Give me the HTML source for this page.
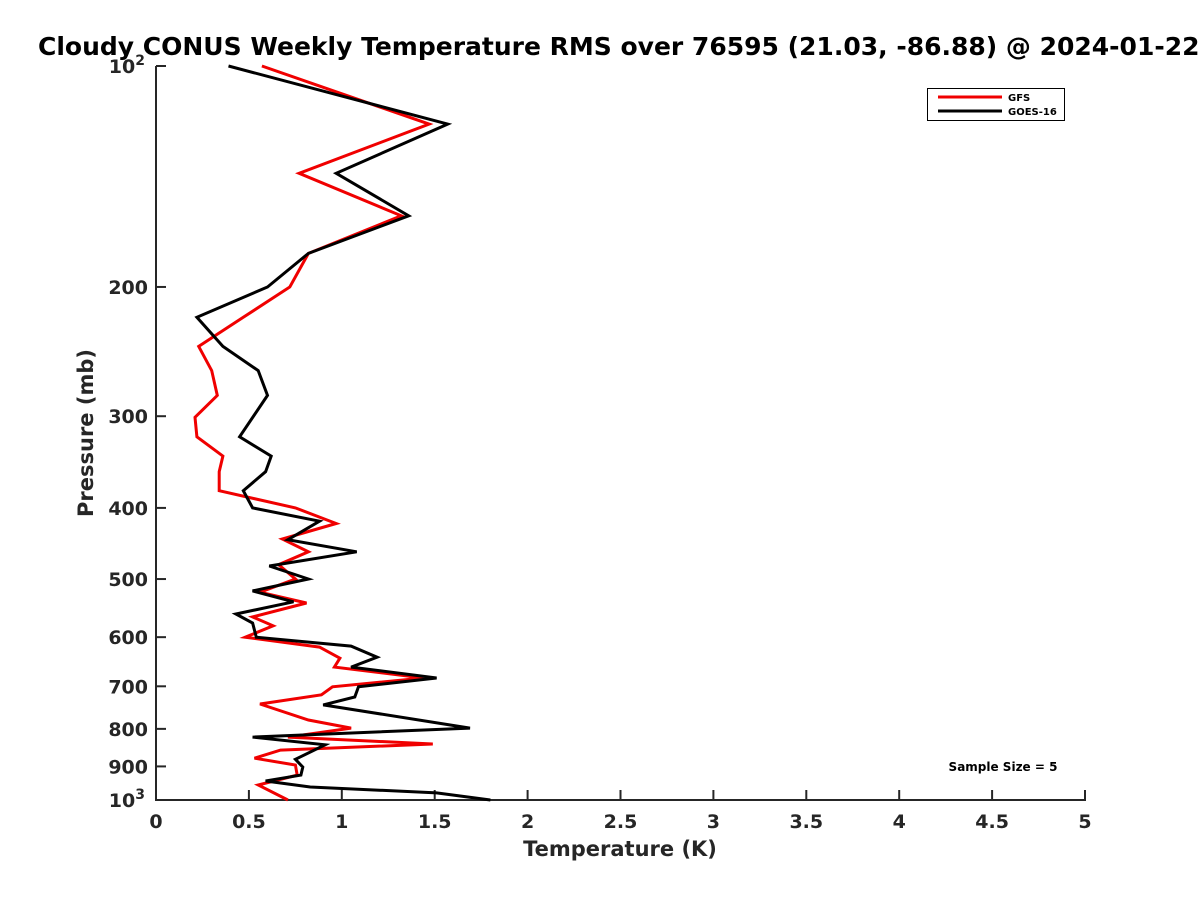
<!DOCTYPE html>
<html><head><meta charset="utf-8"><style>
html,body{margin:0;padding:0;background:#fff;}
svg{display:block;font-family:"DejaVu Sans","Liberation Sans",sans-serif;}
</style></head><body>
<svg id="chart" width="1200" height="900" viewBox="0 0 1200 900" xmlns="http://www.w3.org/2000/svg">
<text x="38" y="55" font-size="25" font-weight="bold" fill="#000">Cloudy CONUS Weekly Temperature RMS over 76595 (21.03, -86.88) @ 2024-01-22</text>
<g id="axes"></g>
<g id="series"></g>
<g>
<rect x="927.5" y="88.5" width="137" height="32" fill="#fff" stroke="#000" stroke-width="1"/>
<line x1="938" y1="97" x2="1002" y2="97" stroke="#f00000" stroke-width="3"/>
<text x="1008" y="101" font-size="10" font-weight="bold">GFS</text>
<line x1="938" y1="111" x2="1002" y2="111" stroke="#000" stroke-width="3"/>
<text x="1008" y="115" font-size="10" font-weight="bold">GOES-16</text>
</g>
<text x="1003" y="771" font-size="12" font-weight="bold" text-anchor="middle">Sample Size = 5</text>
<text x="620" y="856" font-size="21" font-weight="bold" fill="#262626" text-anchor="middle">Temperature (K)</text>
<text transform="translate(93,433) rotate(-90)" font-size="21" font-weight="bold" fill="#262626" text-anchor="middle">Pressure (mb)</text>
</svg>
<script>
const xTicks = [0,0.5,1,1.5,2,2.5,3,3.5,4,4.5,5];
const xTickLabels = ["0","0.5","1","1.5","2","2.5","3","3.5","4","4.5","5"];
const yTicks = [200,300,400,500,600,700,800,900];
const gfsPressure = [100,120,140,160,180,200,220,241,260,281,301,320,340,357,379,400,420,441,459,478,500,521,539,563,579,600,619,641,659,682,701,719,740,778,798,821,839,855,877,896,925,954,1000];
const gfsTemp = [0.57,1.47,0.77,1.32,0.82,0.72,0.47,0.23,0.30,0.33,0.21,0.22,0.36,0.34,0.34,0.75,0.97,0.68,0.82,0.66,0.75,0.56,0.81,0.52,0.63,0.48,0.88,0.99,0.96,1.44,0.95,0.89,0.56,0.82,1.05,0.71,1.49,0.67,0.53,0.75,0.76,0.55,0.71];
const goesPressure = [100,120,140,160,180,200,220,241,260,281,320,340,357,379,400,417,442,459,480,500,519,537,558,574,600,617,639,659,682,701,724,742,798,821,841,880,902,925,942,960,978,1000];
const goesTemp = [0.39,1.57,0.97,1.36,0.82,0.60,0.22,0.36,0.55,0.60,0.45,0.62,0.59,0.47,0.52,0.88,0.71,1.08,0.61,0.82,0.52,0.74,0.43,0.52,0.54,1.05,1.19,1.05,1.51,1.09,1.07,0.90,1.69,0.52,0.91,0.75,0.79,0.78,0.59,0.83,1.51,1.80];

const NS='http://www.w3.org/2000/svg';
const X0=156,X1=1085,Y0=66,Y1=800;
const xs=t=>X0+(t-0)/(5-0)*(X1-X0);
const ys=p=>Y0+(Math.log10(p)-2)*(Y1-Y0);
function mk(tag,attrs,parent){const e=document.createElementNS(NS,tag);for(const k in attrs)e.setAttribute(k,attrs[k]);parent.appendChild(e);return e;}
const axes=document.getElementById('axes');
const ax='#262626';
let l=mk('line',{x1:X0,y1:Y0,x2:X0,y2:Y1+1,stroke:ax,'stroke-width':2},axes);


l=mk('line',{x1:X0-1,y1:Y1,x2:X1+1,y2:Y1,stroke:ax,'stroke-width':2},axes);


xTicks.forEach((t,i)=>{
  const x=xs(t);
  const tk=mk('line',{x1:x,y1:Y1,x2:x,y2:Y1-10,stroke:ax,'stroke-width':2},axes);
  
  
  const tx=mk('text',{x:x,y:Y1+28,'font-size':19,'font-weight':'bold',fill:ax,'text-anchor':'middle'},axes);
  tx.textContent=xTickLabels[i];
  
  
});
[100,1000].forEach(p=>{
  const y=ys(p);
  const tk=mk('line',{x1:X0,y1:y,x2:X0+10,y2:y,stroke:ax,'stroke-width':2},axes);
  
  
  const tx=mk('text',{x:X0-11,y:y+7,'font-size':19,'font-weight':'bold',fill:ax,'text-anchor':'end'},axes);
  
  
  tx.textContent='10';
  const sup=mk('tspan',{dy:-8,'font-size':14},tx);
  sup.textContent=p===100?'2':'3';
});
yTicks.forEach(p=>{
  const y=ys(p);
  const tk=mk('line',{x1:X0,y1:y,x2:X0+10,y2:y,stroke:ax,'stroke-width':2},axes);
  
  
  const tx=mk('text',{x:X0-8,y:y+7,'font-size':19,'font-weight':'bold',fill:ax,'text-anchor':'end'},axes);
  tx.textContent=String(p);
  
  
});
const series=document.getElementById('series');
function line(P,T,color,name){
  const pts=P.map((p,i)=>xs(T[i]).toFixed(1)+','+ys(p).toFixed(1)).join(' ');
  const pl=mk('polyline',{points:pts,fill:'none',stroke:color,'stroke-width':3,'stroke-linejoin':'miter'},series);
  
  
}
line(gfsPressure,gfsTemp,'#f00000','gfs-line');
line(goesPressure,goesTemp,'#000','goes16-line');
</script>
</body></html>
